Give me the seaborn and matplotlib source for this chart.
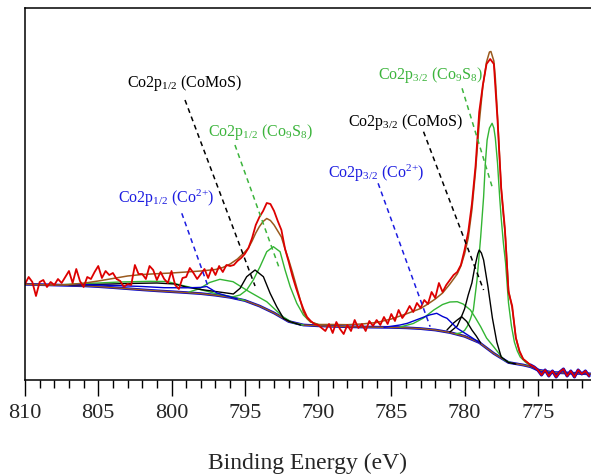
import matplotlib
matplotlib.use("Agg")
import matplotlib.pyplot as plt
import matplotlib.ticker as ticker
import numpy as np
import seaborn as sns

# измеренный спектр Co2p, шаг 0.25 эВ (810 -> 771.5)
energy_raw = np.arange(810.0, 771.49, -0.25)
counts_raw = [
    94, 101, 96, 82, 96, 98, 91, 96,
    93, 99, 95, 101, 107, 95, 109, 97,
    91, 101, 99, 106, 112, 100, 107, 103,
    105, 99, 97, 91, 94, 93, 113, 104,
    104, 99, 112, 108, 98, 106, 99, 95,
    107, 93, 89, 100, 101, 110, 105, 99,
    104, 109, 100, 110, 103, 112, 106, 113,
    112, 113, 117, 120, 124, 130, 140, 153,
    161, 167, 175, 174, 167, 157, 148, 129,
    116, 102, 90, 79, 69, 61, 57, 54,
    53, 50, 47, 54, 45, 56, 49, 44,
    53, 47, 58, 50, 54, 47, 57, 52,
    58, 53, 61, 54, 64, 57, 68, 60,
    65, 72, 66, 75, 70, 78, 74, 86,
    80, 95, 86, 93, 98, 103, 106, 113,
    128, 146, 174, 212, 266, 293, 314, 319,
    314, 258, 190, 150, 86, 72, 40, 27,
    19, 16, 13, 11, 8, 3, 8, 2,
    7, 1, 6, 9, 2, 7, 1, 8,
    4, 7, 2,
]

# фон (Ширли)
bg_energy = [810, 809, 808, 807, 806, 805, 804, 803, 802, 801, 800, 799, 798, 797,
             796, 795, 794, 793, 792, 791, 790, 789, 788, 787, 786, 785, 784, 783,
             782, 781, 780, 779, 778, 777, 776, 775.5, 775, 774, 773, 772, 771.3]
bg_counts = [93.7, 93.4, 93.0, 92.6, 92.2, 91.4, 90.4, 89.3, 88.2, 87.2, 86.3, 85.4,
             84.4, 82.8, 80.7, 77.5, 72.0, 65.0, 56.5, 53.0, 52.2, 51.7, 51.3, 51.0,
             50.8, 50.6, 50.2, 49.4, 48.0, 45.5, 41.7, 35.5, 24.5, 15.5, 13.0, 11.3,
             8.0, 5.5, 5.0, 4.5, 4.0]

# огибающая (сумма компонент)
env_energy = [810, 808, 807, 806, 805, 804, 803, 802, 801, 800, 799, 798, 797, 796.5,
              796, 795.5, 795, 794.75, 794.5, 794.25, 794, 793.75, 793.5, 793.25, 793,
              792.75, 792.5, 792.25, 792, 791.75, 791.5, 791.25, 791, 790.75, 790.5,
              790, 789, 788, 787, 786, 785, 784.4, 784, 783, 782.5, 782, 781.5, 781,
              780.75, 780.5, 780.25, 780, 779.75, 779.5, 779.25, 779, 778.75, 778.5,
              778.3, 778.2, 778, 777.9, 777.75, 777.6, 777.5, 777.35, 777.2, 777,
              776.75, 776.5, 776.25, 776, 775.75, 775.5, 775.25]
env_counts = [93.7, 93.0, 93.4, 94.8, 97.0, 99.5, 102.0, 103.5, 104.3, 105.0, 106.0,
              107.0, 108.5, 110.5, 114.0, 119.0, 126.0, 130.0, 137.0, 145.0, 151.5,
              156.5, 159.5, 157.5, 153.0, 147.0, 141.0, 129.0, 118.0, 106.0, 93.0,
              80.0, 66.0, 59.5, 56.0, 53.5, 53.5, 53.3, 54.0, 55.5, 59.0, 62.0, 64.0,
              69.5, 74.0, 79.0, 85.0, 94.0, 99.0, 104.0, 112.0, 124.0, 140.0, 168.0,
              207.0, 255.0, 292.0, 316.0, 326.0, 326.5, 317.0, 300.0, 262.0, 218.0,
              190.0, 163.0, 139.0, 88.0, 70.0, 41.0, 26.0, 19.0, 16.0, 13.0, 11.0]

# Co9S8 (зелёные)
co9s8_32_energy = [780.6, 780.3, 780.0, 779.8, 779.6, 779.4, 779.15, 778.9, 778.7, 778.58,
                   778.46, 778.3, 778.12, 778.0, 777.9, 777.75, 777.6, 777.5, 777.35,
                   777.2, 777.0, 776.8, 776.6, 776.4, 776.2, 775.85, 775.5]
co9s8_32_counts = [44.3, 45.0, 47.5, 52.0, 59.0, 68.0, 98.0, 141.0, 181.0, 215.0, 238.0,
                   250.0, 254.7, 250.0, 240.0, 215.0, 180.0, 160.0, 135.0, 115.0, 75.0,
                   52.0, 36.0, 27.0, 21.0, 16.0, 12.0]
co9s8_32sat_energy = [784.4, 783.5, 782.8, 782.1, 781.5, 781.0, 780.5, 780.1, 779.6,
                      779.25, 778.9, 778.5, 778.0, 777.3, 776.8]
co9s8_32sat_counts = [51.0, 54.5, 60.0, 68.0, 73.5, 76.0, 76.3, 74.0, 68.0, 60.0, 51.3,
                      40.0, 31.0, 18.0, 15.0]
co9s8_12_energy = [796.0, 795.78, 795.32, 794.87, 794.42, 793.96, 793.5, 793.05, 792.59,
                   792.25, 791.9, 791.45, 791.0, 790.54, 789.86]
co9s8_12_counts = [80.7, 81.3, 83.0, 88.0, 98.0, 111.3, 126.3, 131.3, 126.3, 108.0, 91.3,
                   74.7, 63.0, 56.3, 53.0]
co9s8_12sat_energy = [798.8, 798.1, 797.4, 796.7, 795.8, 794.7, 793.5, 792.4, 791.7, 791.0]
co9s8_12sat_counts = [86.0, 89.3, 95.5, 98.7, 96.3, 86.3, 76.3, 61.3, 55.0, 53.0]
co9s8_broad_energy = [807.5, 806.5, 805.0, 803.5, 801.5, 800.3, 799.4, 798.1, 797.0, 796.0, 795.0]
co9s8_broad_counts = [93.2, 94.3, 95.0, 96.0, 96.7, 96.5, 93.0, 88.7, 84.5, 81.5, 77.5]

# CoMoS (чёрные)
comos_32_energy = [781.0, 780.5, 780.25, 780.0, 779.75, 779.5, 779.3, 779.1, 779.0, 778.85,
                   778.7, 778.4, 778.1, 777.8, 777.5, 777.0, 776.5]
comos_32_counts = [46.0, 52.0, 60.0, 69.0, 83.0, 95.0, 111.0, 124.0, 128.0, 125.0, 118.0,
                   91.0, 60.0, 36.0, 21.0, 15.5, 14.0]
comos_32sat_energy = [781.2, 780.75, 780.5, 780.2, 779.85, 779.5, 779.2, 778.9]
comos_32sat_counts = [48.0, 55.0, 58.0, 61.3, 56.5, 48.0, 42.0, 35.0]
comos_12_energy = [807.0, 805.0, 803.0, 801.0, 799.8, 799.0, 798.0, 797.0, 796.5, 796.0,
                   795.78, 795.32, 794.87, 794.3, 793.73, 793.27, 792.82, 792.36, 791.9, 791.2]
comos_12_counts = [93.0, 93.6, 94.5, 95.0, 94.0, 91.0, 88.5, 86.5, 85.5, 84.5, 84.0, 89.7,
                   101.3, 108.0, 101.3, 84.7, 71.3, 59.7, 56.3, 53.0]

# Co2+ (синие)
co2_32_energy = [785.5, 784.4, 783.9, 783.0, 782.4, 781.9, 781.5, 781.2, 780.5, 779.6, 779.0]
co2_32_counts = [50.7, 53.0, 54.7, 59.7, 63.0, 64.7, 61.5, 59.7, 49.7, 41.3, 35.5]
co2_12_energy = [808.0, 806.0, 805.0, 803.5, 802.0, 800.5, 799.0, 798.0, 797.6, 797.2,
                 796.9, 796.2, 795.5]
co2_12_counts = [93.1, 93.4, 93.0, 92.3, 91.5, 90.3, 90.2, 90.6, 91.5, 88.0, 85.0, 82.0, 79.0]

# подписи компонент и выноски (начало под подписью -> пик)
label_texts = [r"Co2p$_{1/2}$ (CoMoS)", r"Co2p$_{1/2}$ (Co$_9$S$_8$)",
               r"Co2p$_{1/2}$ (Co$^{2{+}}$)", r"Co2p$_{3/2}$ (Co$^{2{+}}$)",
               r"Co2p$_{3/2}$ (CoMoS)", r"Co2p$_{3/2}$ (Co$_9$S$_8$)"]
label_energy = [799.08, 793.9, 800.33, 785.99, 784.05, 782.28]
label_counts = [295, 246.3, 179.7, 205, 256.3, 303]
label_colors = ["black", "#3cb43c", "#1c1ce0", "#1c1ce0", "black", "#3cb43c"]
leader_start_energy = [799.08, 795.67, 799.3, 785.9, 782.8, 780.17]
leader_start_counts = [278, 233, 164.7, 194.7, 246.3, 289.7]
leader_end_energy = [794.3, 792.6, 797.5, 782.35, 778.7, 778.12]
leader_end_counts = [92, 108, 91.3, 51.3, 88, 191.3]

RED = "#dd0000"
BROWN = "#9a5a1e"
GREEN = "#33b533"
BLUE = "#0000d0"

sns.set_style("ticks")
plt.rcParams["font.family"] = ["Liberation Serif", "DejaVu Serif"]
plt.rcParams["mathtext.fontset"] = "custom"
plt.rcParams["mathtext.rm"] = "Liberation Serif"
plt.rcParams["mathtext.default"] = "regular"

fig = plt.figure(figsize=(5.91, 4.75), dpi=100)
ax = fig.add_axes([25 / 591, 95 / 475, 1 - 25 / 591, 372 / 475])


def line(x, y, color, lw):
    sns.lineplot(x=x, y=y, ax=ax, color=color, linewidth=lw, estimator=None, sort=False)


# фон
line(bg_energy, bg_counts, BLUE, 2.0)
line(bg_energy, bg_counts, BROWN, 1.0)

# компоненты
for e, c in [(co9s8_broad_energy, co9s8_broad_counts), (co9s8_12sat_energy, co9s8_12sat_counts),
             (co9s8_12_energy, co9s8_12_counts), (co9s8_32sat_energy, co9s8_32sat_counts),
             (co9s8_32_energy, co9s8_32_counts)]:
    line(e, c, GREEN, 1.0)
for e, c in [(comos_12_energy, comos_12_counts), (comos_32sat_energy, comos_32sat_counts),
             (comos_32_energy, comos_32_counts)]:
    line(e, c, "black", 1.0)
for e, c in [(co2_12_energy, co2_12_counts), (co2_32_energy, co2_32_counts)]:
    line(e, c, BLUE, 1.0)

# огибающая и измеренный спектр
line(env_energy, env_counts, BROWN, 1.1)
tail = energy_raw < 775.6
line(energy_raw[tail], np.array(counts_raw)[tail], BLUE, 2.2)
line(energy_raw, counts_raw, RED, 1.3)

# подписи и пунктирные выноски
for i, text in enumerate(label_texts):
    ax.plot([leader_start_energy[i], leader_end_energy[i]],
            [leader_start_counts[i], leader_end_counts[i]],
            color=label_colors[i], linewidth=1.1, linestyle=(0, (3.2, 2.6)))
    ax.text(label_energy[i], label_counts[i], text, color=label_colors[i],
            fontsize=11.5, ha="center", va="center")

ax.set_xlim(810, 771.37)
ax.set_ylim(-2, 370)
ax.set_yticks([])
ax.set_ylabel("")
ax.xaxis.set_major_locator(ticker.MultipleLocator(5))
ax.xaxis.set_minor_locator(ticker.MultipleLocator(1))
ax.tick_params(axis="x", which="major", direction="out", length=11.5, width=1.0,
               labelsize=16, pad=6, color="black")
ax.tick_params(axis="x", which="minor", direction="out", length=5.8, width=1.0, color="black")
ax.set_xlabel("Binding Energy (eV)", fontsize=17, labelpad=21)
for side in ["left", "bottom", "top"]:
    ax.spines[side].set_linewidth(1.1)
    ax.spines[side].set_color("black")
ax.spines["right"].set_visible(False)

fig.savefig("out.png", dpi=100)
